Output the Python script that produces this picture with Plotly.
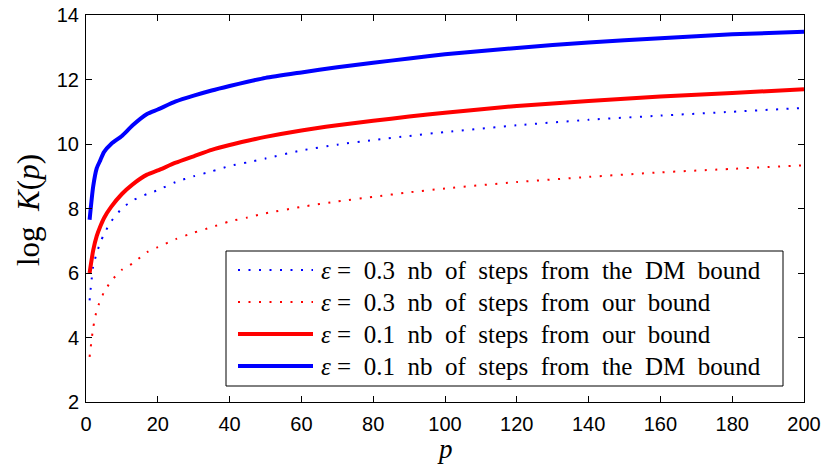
import plotly.graph_objects as go

p = [1, 2, 3, 4, 5, 7, 10, 13, 17, 20, 25, 30, 35, 40, 45, 50, 60, 70, 80, 90, 100, 120, 140, 160, 180, 200]

dm_eps01 = [7.65, 8.68, 9.25, 9.5, 9.75, 10.0, 10.25, 10.58, 10.93, 11.07, 11.32, 11.5, 11.66, 11.8, 11.93, 12.05,
            12.22, 12.38, 12.52, 12.65, 12.78, 12.98, 13.15, 13.28, 13.4, 13.48]
ours_eps01 = [6.0, 6.7, 7.15, 7.45, 7.7, 8.05, 8.45, 8.75, 9.05, 9.18, 9.42, 9.62, 9.82, 9.97, 10.1, 10.22,
              10.42, 10.58, 10.72, 10.85, 10.97, 11.18, 11.33, 11.47, 11.58, 11.7]
dm_eps03 = [5.15, 6.2, 6.62, 6.95, 7.2, 7.6, 8.0, 8.25, 8.45, 8.57, 8.82, 9.0, 9.15, 9.32, 9.43, 9.55,
            9.8, 9.98, 10.12, 10.25, 10.37, 10.58, 10.75, 10.88, 11.0, 11.12]
ours_eps03 = [3.4, 4.3, 4.85, 5.15, 5.4, 5.75, 6.1, 6.3, 6.65, 6.8, 7.05, 7.25, 7.42, 7.6, 7.72, 7.85,
              8.05, 8.22, 8.36, 8.5, 8.62, 8.82, 8.98, 9.12, 9.23, 9.34]

names = [
    "<i>ε</i> = 0.3 nb of steps from the DM bound",
    "<i>ε</i> = 0.3 nb of steps from our bound",
    "<i>ε</i> = 0.1 nb of steps from our bound",
    "<i>ε</i> = 0.1 nb of steps from the DM bound",
]

x_ticks = [0, 20, 40, 60, 80, 100, 120, 140, 160, 180, 200]
y_ticks = [2, 4, 6, 8, 10, 12, 14]

# layout geometry (pixels)
W, H = 826, 466
ML, MR, MT, MB = 86, 22, 15, 64
PW, PH = W - ML - MR, H - MT - MB


def px_x(px):
    return (px - ML) / PW


def px_y(py):
    return (H - MB - py) / PH


DOT = "2px,8.5px"
series = [
    (dm_eps03, "#0000ff", DOT, 2),
    (ours_eps03, "#ff0000", DOT, 2),
    (ours_eps01, "#ff0000", "solid", 4),
    (dm_eps01, "#0000ff", "solid", 4),
]

fig = go.Figure()
for i, (vals, col, dash, w) in enumerate(series):
    fig.add_trace(go.Scatter(
        x=p, y=vals, mode="lines", name=names[i], showlegend=False,
        line=dict(color=col, width=w, dash=dash, shape="spline", smoothing=0.6),
    ))

axis_common = dict(
    showline=True, linecolor="black", linewidth=1, mirror="allticks",
    ticks="inside", ticklen=6, tickcolor="black", showgrid=False, zeroline=False,
    automargin=False,
    tickfont=dict(family="Liberation Sans, Arial", size=20, color="black"),
)
fig.update_xaxes(range=[0, 200], tickvals=x_ticks, ticklabelstandoff=4, **axis_common)
fig.update_yaxes(range=[2, 14], tickvals=y_ticks, ticklabelstandoff=2, **axis_common)

shapes = []
annotations = []
# legend box
shapes.append(dict(type="rect", xref="paper", yref="paper",
                   x0=px_x(226), x1=px_x(783), y0=px_y(386), y1=px_y(251),
                   line=dict(color="black", width=1), fillcolor="white", layer="above"))
row_y = [270, 302, 334, 366]
for i, (vals, col, dash, w) in enumerate(series):
    shapes.append(dict(type="line", xref="paper", yref="paper",
                       x0=px_x(238), x1=px_x(313), y0=px_y(row_y[i]), y1=px_y(row_y[i]),
                       line=dict(color=col, width=w, dash=dash), layer="above"))
    label = names[i].replace(" ", "&nbsp;&nbsp;").replace("<i>ε</i>&nbsp;&nbsp;=", "<i>ε</i>&nbsp;=")
    annotations.append(dict(text=label, xref="paper", yref="paper",
                            x=px_x(319), y=px_y(row_y[i]), xanchor="left", yanchor="middle",
                            showarrow=False,
                            font=dict(family="Liberation Serif, serif", size=25, color="black")))

# axis titles
annotations.append(dict(text="<i>p</i>", xref="paper", yref="paper", x=0.5, y=px_y(465),
                        xanchor="center", yanchor="bottom", showarrow=False, borderpad=0,
                        font=dict(family="Liberation Serif, serif", size=27, color="black")))
annotations.append(dict(text="log&nbsp;&nbsp;<i>K</i>(<i>p</i>)", xref="paper", yref="paper",
                        x=px_x(28), y=px_y(210),
                        xanchor="center", yanchor="middle", showarrow=False, textangle=-90,
                        font=dict(family="Liberation Serif, serif", size=31, color="black")))

fig.update_layout(
    width=W, height=H,
    margin=dict(l=ML, r=MR, t=MT, b=MB),
    plot_bgcolor="white", paper_bgcolor="white",
    showlegend=False,
    shapes=shapes, annotations=annotations,
)

fig.write_html("out.html", config={"displayModeBar": False, "staticPlot": True},
               post_script="document.body.style.margin='0';document.body.style.overflow='hidden';")
